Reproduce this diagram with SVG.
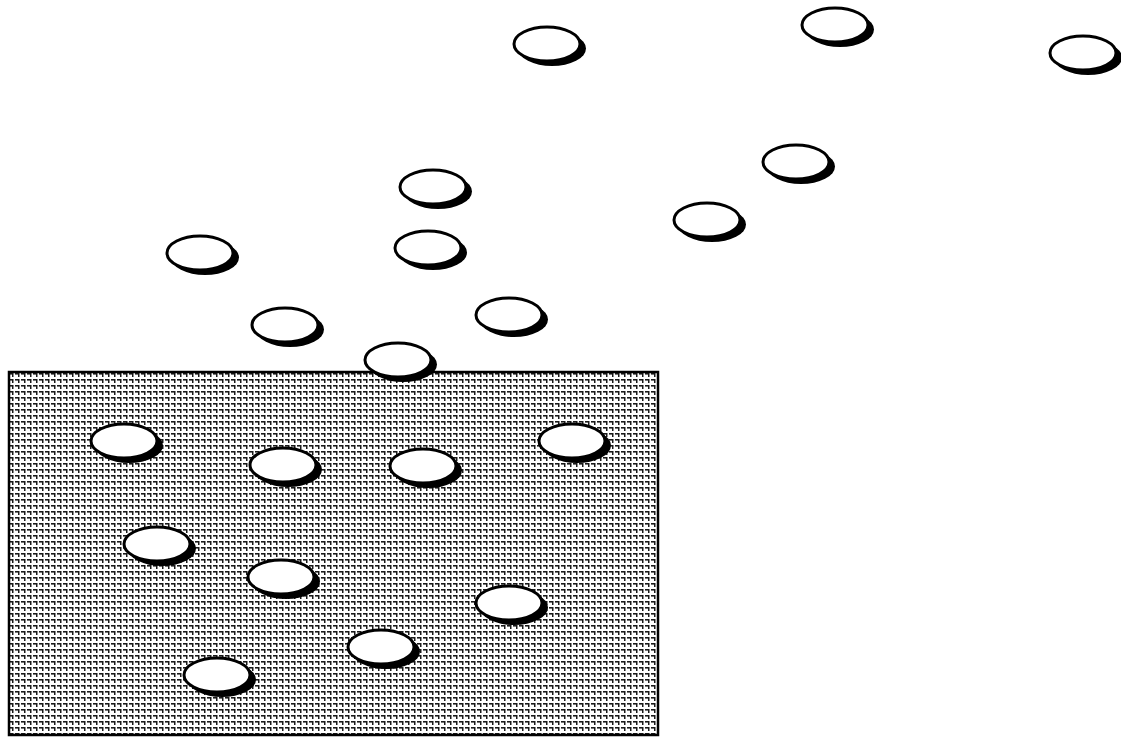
<svg xmlns="http://www.w3.org/2000/svg" width="1121" height="738" viewBox="0 0 1121 738">
<style>
.sh{fill:#000}
.el{fill:#fff;stroke:#000;stroke-width:3}
</style>
<defs>
<pattern id="grid" x="9" y="373" width="6" height="6" patternUnits="userSpaceOnUse">
<rect width="6" height="6" fill="#fff"/>
<rect x="0" y="0" width="4" height="1" fill="#1a1a1a"/>
<rect x="0" y="1" width="3" height="1" fill="#777"/>
<rect x="3" y="0" width="1.5" height="4" fill="#1a1a1a"/>
</pattern>
<g id="blob">
<ellipse class="sh" cx="5" cy="4.5" rx="34" ry="17.5"/>
<ellipse class="el" cx="0" cy="0" rx="33" ry="17"/>
</g>
</defs>
<rect id="field" x="9" y="372" width="649" height="363" fill="url(#grid)" stroke="#000" stroke-width="2.5"/>
<g id="connectors"/>
<g id="n1"><use href="#blob" x="547" y="44"/></g>
<g id="n2"><use href="#blob" x="835" y="25"/></g>
<g id="n3"><use href="#blob" x="1083" y="53"/></g>
<g id="n4"><use href="#blob" x="433" y="187"/></g>
<g id="n5"><use href="#blob" x="796" y="162"/></g>
<g id="n6"><use href="#blob" x="707" y="220"/></g>
<g id="n7"><use href="#blob" x="200" y="253"/></g>
<g id="n8"><use href="#blob" x="428" y="248"/></g>
<g id="n9"><use href="#blob" x="285" y="325"/></g>
<g id="n10"><use href="#blob" x="509" y="315"/></g>
<g id="n11"><use href="#blob" x="398" y="360"/></g>
<g id="n12"><use href="#blob" x="124" y="441"/></g>
<g id="n13"><use href="#blob" x="283" y="465"/></g>
<g id="n14"><use href="#blob" x="423" y="466"/></g>
<g id="n15"><use href="#blob" x="572" y="441"/></g>
<g id="n16"><use href="#blob" x="157" y="544"/></g>
<g id="n17"><use href="#blob" x="281" y="577"/></g>
<g id="n18"><use href="#blob" x="509" y="603"/></g>
<g id="n19"><use href="#blob" x="381" y="647"/></g>
<g id="n20"><use href="#blob" x="217" y="675"/></g>
</svg>
